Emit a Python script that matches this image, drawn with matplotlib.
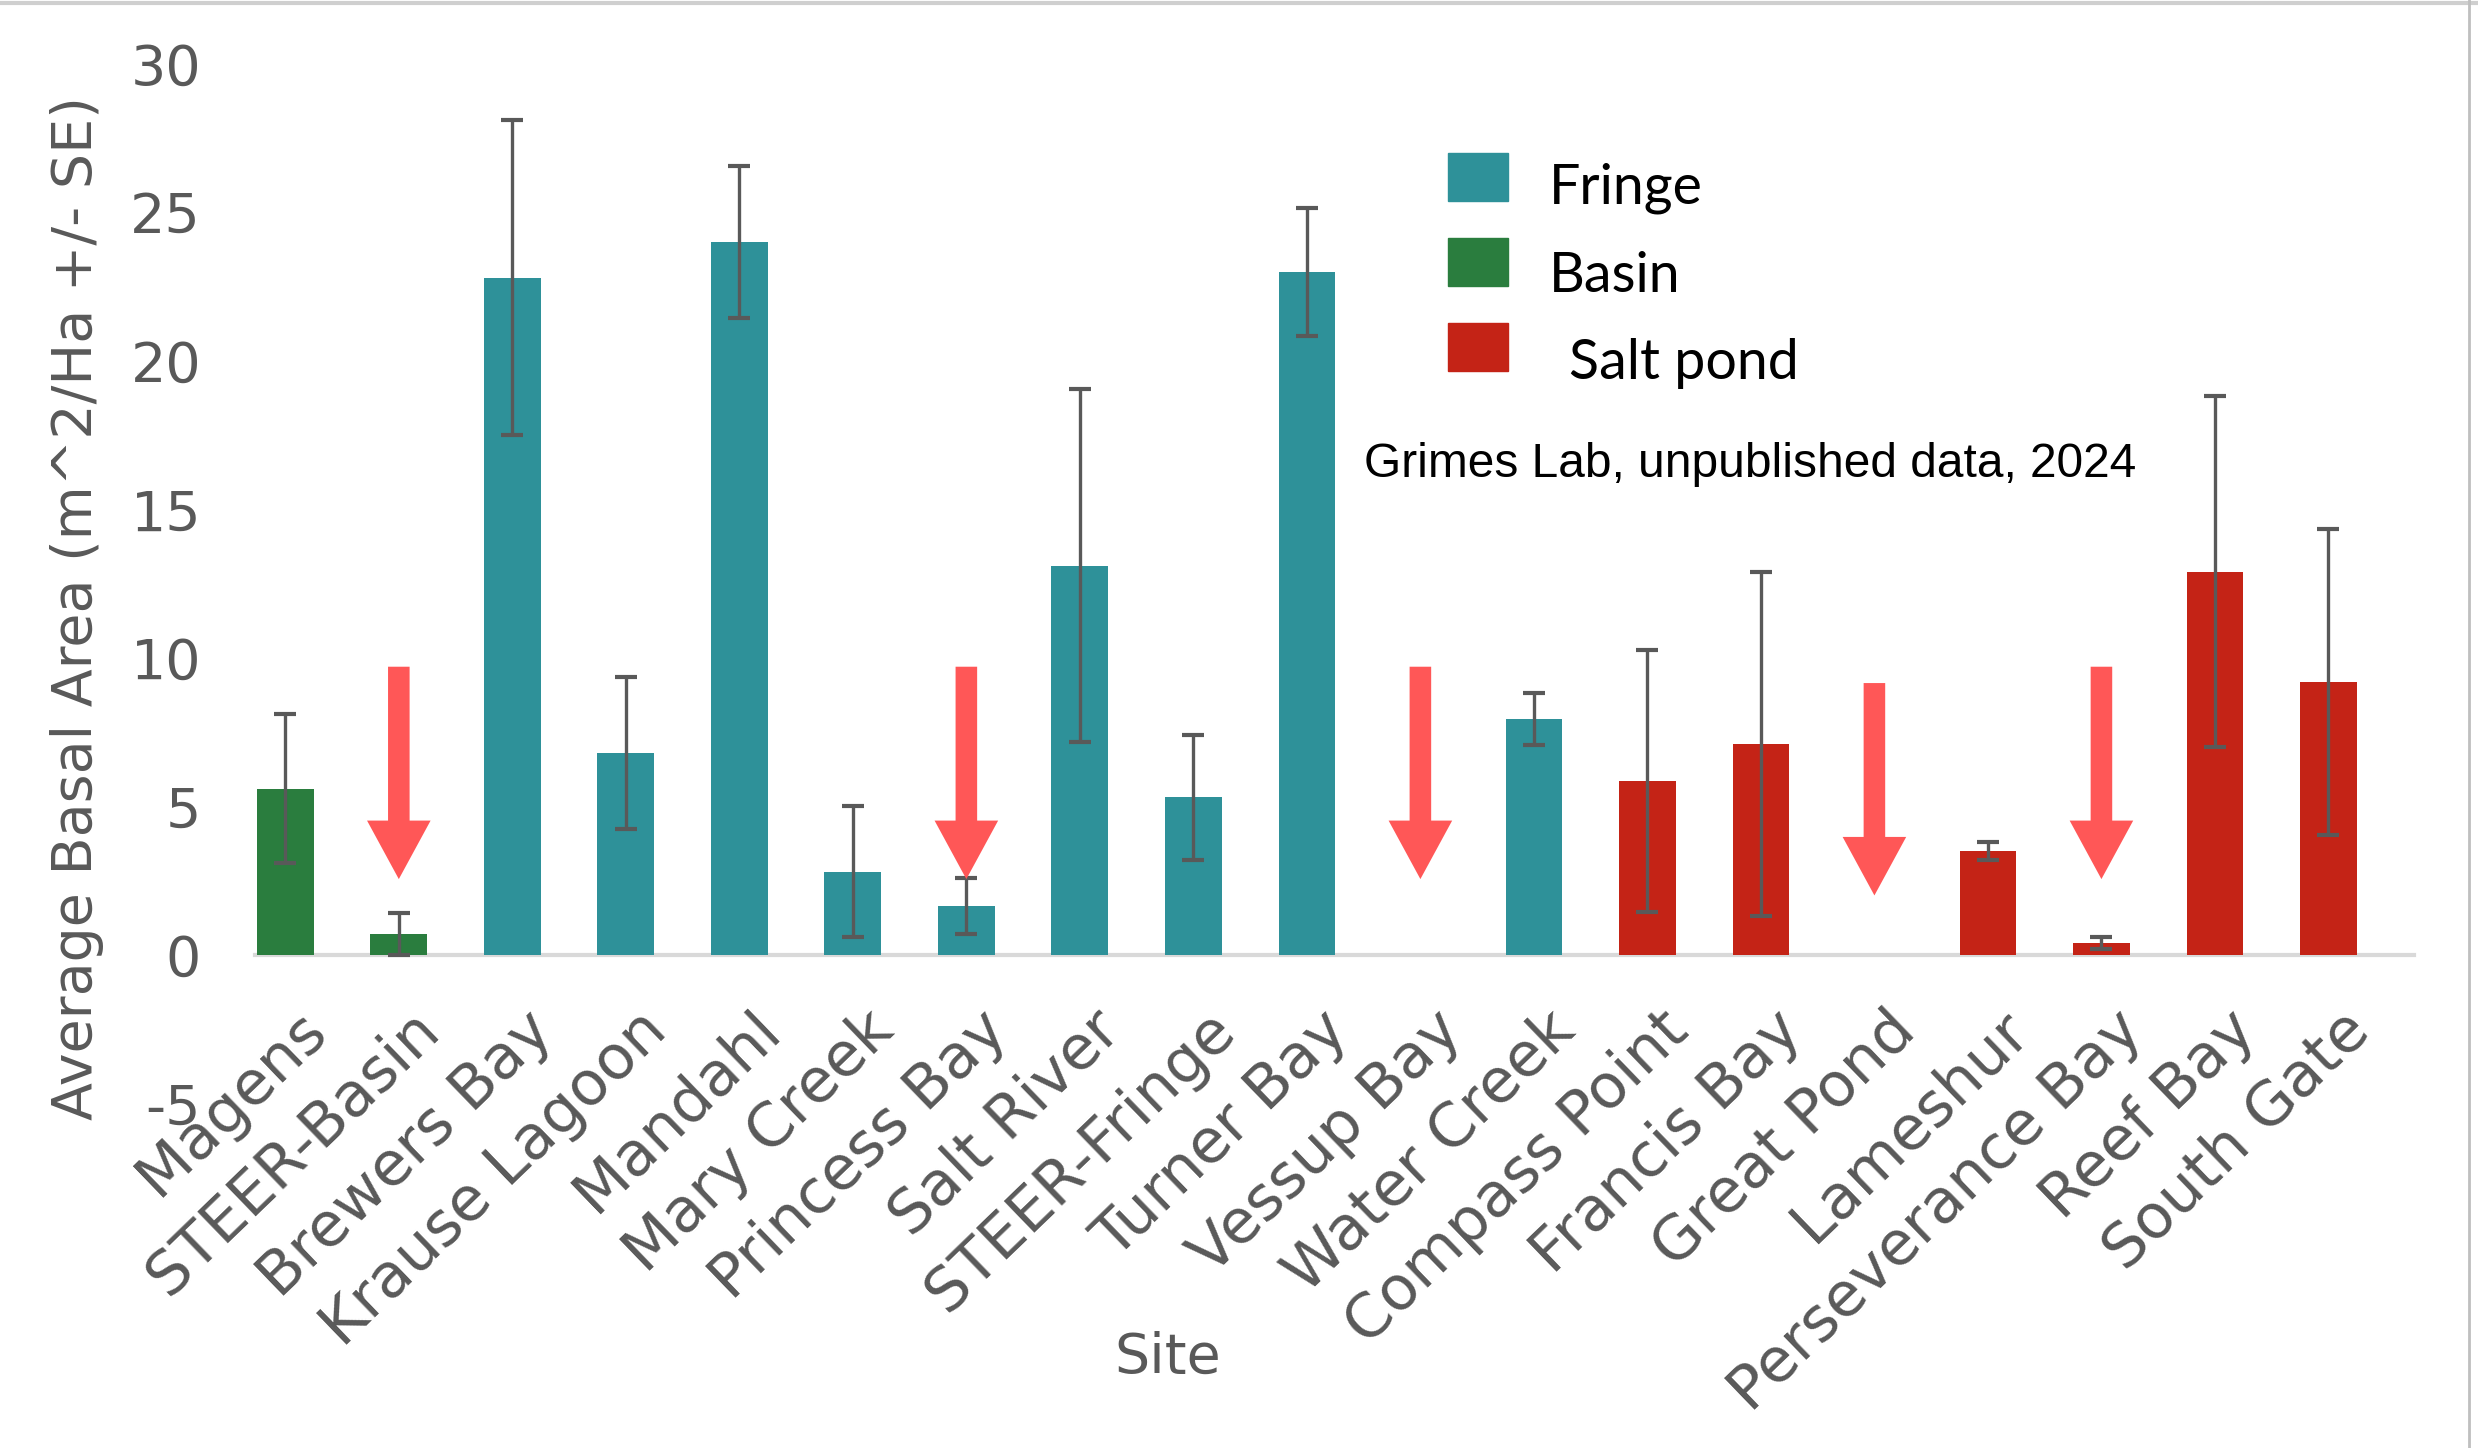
import matplotlib
matplotlib.use("Agg")
import matplotlib.pyplot as plt
import matplotlib.transforms as mtransforms
from matplotlib.patches import Rectangle
from matplotlib.lines import Line2D

plt.rcParams['axes.unicode_minus'] = False

# data
sites = ['Magens', 'STEER-Basin', 'Brewers Bay', 'Krause Lagoon', 'Mandahl',
         'Mary Creek', 'Princess Bay', 'Salt River', 'STEER-Fringe', 'Turner Bay',
         'Vessup Bay', 'Water Creek', 'Compass Point', 'Francis Bay', 'Great Pond',
         'Lameshur', 'Perseverance Bay', 'Reef Bay', 'South Gate']
basal_area = [5.6, 0.7, 22.8, 6.8, 24.0, 2.8, 1.65, 13.1, 5.3, 23.0,
              0.0, 7.95, 5.85, 7.1, 0.0, 3.5, 0.4, 12.9, 9.2]
se = [2.5, 0.7, 5.3, 2.55, 2.55, 2.2, 0.95, 5.95, 2.1, 2.15,
      0.0, 0.88, 4.4, 5.8, 0.0, 0.3, 0.2, 5.9, 5.15]
habitat = ['Basin', 'Basin', 'Fringe', 'Fringe', 'Fringe', 'Fringe', 'Fringe',
           'Fringe', 'Fringe', 'Fringe', 'Fringe', 'Fringe', 'Salt pond', 'Salt pond',
           'Salt pond', 'Salt pond', 'Salt pond', 'Salt pond', 'Salt pond']
habitat_colors = {'Fringe': '#2E9199', 'Basin': '#2A7D3E', 'Salt pond': '#C42316'}

# red arrows pointing at low / missing values
arrow_sites = ['STEER-Basin', 'Princess Bay', 'Vessup Bay', 'Great Pond', 'Perseverance Bay']
arrow_top = [9.7, 9.7, 9.7, 9.15, 9.7]
arrow_tip = [2.55, 2.55, 2.55, 2.0, 2.55]

gray = '#595959'

fig = plt.figure(figsize=(24.78, 14.48), dpi=100)
ax = fig.add_axes([0.103, 0.238, 0.871, 0.718])

x = list(range(len(sites)))
colors = [habitat_colors[h] for h in habitat]
ax.bar(x, basal_area, width=0.5, color=colors, zorder=2)

# error bars only where there is a value
ex = [i for i in x if se[i] > 0]
ax.errorbar(ex, [basal_area[i] for i in ex], yerr=[se[i] for i in ex], fmt='none',
            ecolor=gray, elinewidth=2.4, capsize=8, capthick=3, zorder=3)

for s, top, tip in zip(arrow_sites, arrow_top, arrow_tip):
    xi = sites.index(s)
    ax.arrow(xi, top, 0, tip - top, width=0.19, head_width=0.56, head_length=1.97,
             length_includes_head=True, color='#FF5757', lw=0, zorder=4)

ax.set_xlim(-0.265, 18.75)
ax.set_ylim(-5, 30)
ax.set_yticks([-5, 0, 5, 10, 15, 20, 25, 30])
for sp in ['top', 'right', 'left']:
    ax.spines[sp].set_visible(False)
ax.spines['bottom'].set_position(('data', 0))
ax.spines['bottom'].set_color('#D9D9D9')
ax.spines['bottom'].set_linewidth(3)
ax.spines['bottom'].set_zorder(1)

ax.tick_params(axis='y', length=0, pad=39, labelsize=40, labelcolor=gray)
ax.tick_params(axis='x', length=0, pad=48, labelsize=44, labelcolor=gray)
ax.set_xticks(x)
ax.set_xticklabels(sites, rotation=44, ha='right', va='center',
                   rotation_mode='anchor')
offset = mtransforms.ScaledTranslation(0.32, 0, fig.dpi_scale_trans)
for lab in ax.get_xticklabels():
    lab.set_transform(lab.get_transform() + offset)

ax.set_ylabel('Average Basal Area (m^2/Ha +/- SE)', fontsize=40, color=gray)
ax.yaxis.set_label_coords(-0.070, 0.476)
ax.set_xlabel('Site', fontsize=40, color=gray)
ax.xaxis.set_label_coords(0.423, -0.219)

# legend drawn by hand to match the placement in the reference
legend_items = ['Fringe', 'Basin', 'Salt pond']
leg_box_y = [0.8612, 0.8025, 0.7438]
leg_text = [(0.625, 0.870, 'Fringe'), (0.625, 0.809, 'Basin'), (0.633, 0.749, 'Salt pond')]
for name, by in zip(legend_items, leg_box_y):
    fig.add_artist(Rectangle((0.5843, by), 0.0242, 0.0331, transform=fig.transFigure,
                             color=habitat_colors[name]))
for tx, ty, t in leg_text:
    fig.text(tx, ty, t, fontsize=40, family='Lato', color='black', va='center')

fig.text(0.5505, 0.679, 'Grimes Lab, unpublished data, 2024', fontsize=34.5,
         family='Liberation Sans', color='black', va='center')

# screenshot frame lines
fig.add_artist(Line2D([0, 1], [0.998, 0.998], transform=fig.transFigure,
                      color='#CFCFCF', lw=3))
fig.add_artist(Line2D([0.9965, 0.9965], [0, 1], transform=fig.transFigure,
                      color='#BFBFBF', lw=2))

fig.savefig('out.png', dpi=100)
